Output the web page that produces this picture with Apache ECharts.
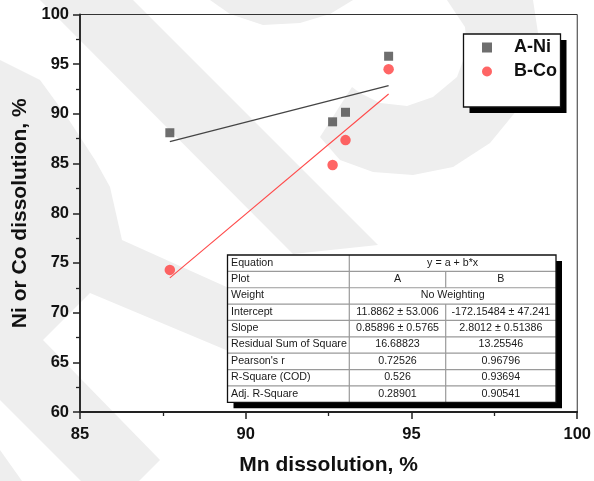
<!DOCTYPE html>
<html>
<head>
<meta charset="utf-8">
<script src="https://cdn.jsdelivr.net/npm/echarts@6/dist/echarts.min.js"></script>
<style>html,body{margin:0;padding:0;background:#fff;}#c{width:594px;height:481px;}</style>
</head>
<body>
<div id="c"></div>
<script>
// ---- data ----
const mnA = [87.71, 92.62, 93.01, 94.31];
const niA = [88.1, 89.2, 90.16, 95.8];
const mnB = [87.71, 92.62, 93.01, 94.31];
const coB = [74.3, 84.86, 87.36, 94.5];
const fitAx = [87.71, 94.31];
const fitAy = [87.2, 92.85];
const fitBx = [87.71, 94.31];
const fitBy = [73.5, 92.0];
const seriesNames = ['A-Ni', 'B-Co'];
const tableRowLabels = ['Equation', 'Plot', 'Weight', 'Intercept', 'Slope', 'Residual Sum of Square', "Pearson's r", 'R-Square (COD)', 'Adj. R-Square'];
const equationText = 'y = a + b*x';
const plotNames = ['A', 'B'];
const weightText = 'No Weighting';
const statsA = ['11.8862 \u00b1 53.006', '0.85896 \u00b1 0.5765', '16.68823', '0.72526', '0.526', '0.28901'];
const statsB = ['-172.15484 \u00b1 47.241', '2.8012 \u00b1 0.51386', '13.25546', '0.96796', '0.93694', '0.90541'];

const FONT = "'Liberation Sans', Arial, Helvetica, sans-serif";
const zip = (a, b) => a.map((v, i) => [v, b[i]]);

// ---- watermark (background) ----
const WM = '#eeeeee';
const wmShapes = [
  [[40,0],[133,0],[378,245],[293,254]],
  [[533,0],[538,33],[533,73],[517,110],[490,143],[453,167],[413,175],[373,172],[340,160],[320,137],[352,87],[360,93],[380,103],[407,106],[433,97],[457,77],[467,50],[465,27],[447,0]],
  [[210,0],[230,14],[263,25],[300,23],[330,14],[353,0]],
  [[0,60],[40,80],[67,117],[95,160],[110,187],[122,240],[300,320],[300,381],[90,293],[43,340],[160,460],[139,481],[81,481],[0,400]],
  [[0,450],[22,481],[0,481]]
];
const graphics = wmShapes.map(p => ({type:'polygon', z:-1, silent:true, shape:{points:p}, style:{fill:WM}}));

// ---- legend box ----
graphics.push({type:'rect', z:3, shape:{x:469.5, y:40, width:97, height:73}, style:{fill:'#000'}});
graphics.push({type:'rect', z:3, shape:{x:463.5, y:34, width:97, height:73}, style:{fill:'#fff', stroke:'#111', lineWidth:1.3}});

// ---- stats table ----
(function(){
  const x0 = 227.5, y0 = 255, x1 = 556, y1 = 402.3, c1 = 349.3, c2 = 445.7;
  const rh = (y1 - y0) / 9;
  const Z = 10;
  graphics.push({type:'rect', z:Z, shape:{x:x0+6, y:y0+6, width:x1-x0, height:y1-y0}, style:{fill:'#000'}});
  graphics.push({type:'rect', z:Z, shape:{x:x0, y:y0, width:x1-x0, height:y1-y0}, style:{fill:'#fff'}});
  const lineStyle = {stroke:'#9a9a9a', lineWidth:1.2};
  for (let i = 1; i < 9; i++) {
    graphics.push({type:'line', z:Z, shape:{x1:x0, y1:y0+i*rh, x2:x1, y2:y0+i*rh}, style:lineStyle});
  }
  graphics.push({type:'line', z:Z, shape:{x1:c1, y1:y0, x2:c1, y2:y1}, style:lineStyle});
  graphics.push({type:'line', z:Z, shape:{x1:c2, y1:y0+rh, x2:c2, y2:y0+2*rh}, style:lineStyle});
  graphics.push({type:'line', z:Z, shape:{x1:c2, y1:y0+3*rh, x2:c2, y2:y1}, style:lineStyle});
  graphics.push({type:'rect', z:Z+1, shape:{x:x0, y:y0, width:x1-x0, height:y1-y0}, style:{fill:null, stroke:'#111', lineWidth:1.3}});
  const ts = {fontFamily:FONT, fontSize:10.7, fill:'#1a1a1a', verticalAlign:'middle'};
  const txt = (s, x, row, align) => graphics.push({type:'text', z:Z+2, style:Object.assign({}, ts, {text:s, x:x, y:y0 + (row+0.47)*rh, align:align})});
  tableRowLabels.forEach((s, i) => txt(s, x0+3.5, i, 'left'));
  const midA = (c1+c2)/2, midB = (c2+x1)/2, midAB = (c1+x1)/2;
  txt(equationText, midAB, 0, 'center');
  txt(plotNames[0], midA, 1, 'center');
  txt(plotNames[1], midB, 1, 'center');
  txt(weightText, midAB, 2, 'center');
  statsA.forEach((s, i) => txt(s, midA, i+3, 'center'));
  statsB.forEach((s, i) => txt(s, midB, i+3, 'center'));
})();

const axisCommon = {
  axisLine:{show:true, onZero:false, lineStyle:{color:'#222', width:1.8}},
  axisTick:{show:true, inside:false, length:7, lineStyle:{color:'#222', width:1.5}},
  minorTick:{show:true, splitNumber:2, length:4, lineStyle:{color:'#222', width:1.3}},
  splitLine:{show:false},
  minorSplitLine:{show:false},
  nameLocation:'middle',
  nameTextStyle:{fontFamily:FONT, fontSize:21, fontWeight:'bold', color:'#111'}
};

const option = {
  animation:false,
  backgroundColor:'#fff',
  textStyle:{fontFamily:FONT},
  grid:{left:80, top:14.5, width:497.5, height:400, show:true, borderColor:'#333', borderWidth:1, backgroundColor:'transparent'},
  xAxis:Object.assign({}, axisCommon, {
    type:'value', min:85, max:100, interval:5,
    name:'Mn dissolution, %', nameGap:43,
    axisLabel:{fontFamily:FONT, fontSize:16.5, fontWeight:'bold', color:'#111', margin:14}
  }),
  yAxis:Object.assign({}, axisCommon, {
    type:'value', min:60, max:100, interval:5,
    name:'Ni or Co dissolution, %', nameGap:48,
    axisLabel:{fontFamily:FONT, fontSize:16.5, fontWeight:'bold', color:'#111', margin:11}
  }),
  legend:{
    orient:'vertical', left:482, top:38.5, padding:0, itemGap:6,
    itemWidth:10, itemHeight:10,
    textStyle:{fontFamily:FONT, fontSize:18, fontWeight:'bold', color:'#111', padding:[0,0,0,17], lineHeight:18},
    data:[{name:seriesNames[0], icon:'rect'}, {name:seriesNames[1], icon:'circle'}]
  },
  graphic:{elements:graphics},
  series:[
    {name:seriesNames[0], type:'scatter', symbol:'rect', symbolSize:9, z:5,
     itemStyle:{color:'#4a4a4a'}, data:zip(mnA, niA)},
    {name:seriesNames[1], type:'scatter', symbol:'circle', symbolSize:10.5, z:5,
     itemStyle:{color:'#ff3f3f'}, data:zip(mnB, coB)},
    {name:'fitA', type:'line', showSymbol:false, symbol:'none', z:4, silent:true,
     lineStyle:{color:'#444', width:1.2}, data:zip(fitAx, fitAy)},
    {name:'fitB', type:'line', showSymbol:false, symbol:'none', z:4, silent:true,
     lineStyle:{color:'#ff4a4a', width:1.1}, data:zip(fitBx, fitBy)}
  ]
};
const chart = echarts.init(document.getElementById('c'), null, {renderer:'canvas'});
chart.setOption(option);
</script>
</body>
</html>
